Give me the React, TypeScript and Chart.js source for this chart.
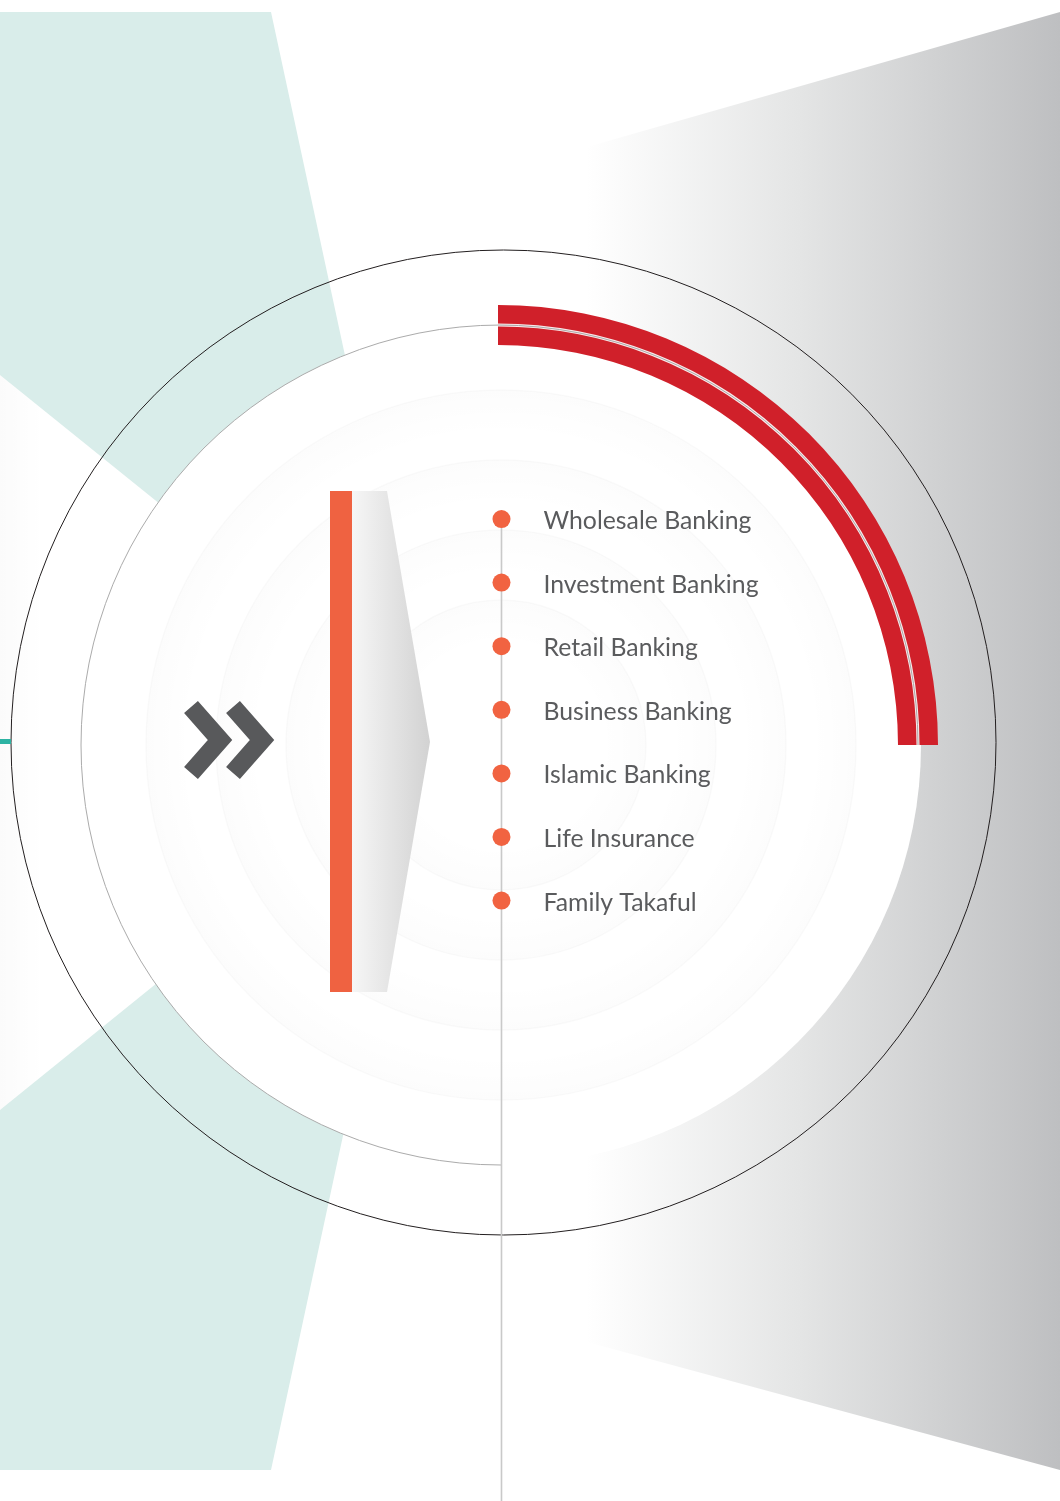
import React, { useEffect, useRef } from "react";
import { Chart, registerables } from "chart.js";

Chart.register(...registerables);

// ---- data ----
const categories = [
  "Wholesale Banking",
  "Investment Banking",
  "Retail Banking",
  "Business Banking",
  "Islamic Banking",
  "Life Insurance",
  "Family Takaful",
];
const ranks = [1, 2, 3, 4, 5, 6, 7];
const timelinePosition = [0, 0, 0, 0, 0, 0, 0];
const arcLabels = ["Highlighted", "Remainder"];
const arcValues = [25, 75];

// ---- styles ----
const DOT_COLOR = "#f16341";
const TEXT_COLOR = "#5a5b5d";
const RED = "#d0202a";
const TEAL_BG = "#d9edea";
const FONT = '"Lato"';

const W = 1060;
const H = 1501;
const CX = 501;
const CY = 745;
const R_DISC = 420;
const ARC_CX = 498;

const decorPlugin = {
  id: "decor",
  beforeDatasetsDraw(chart: any) {
    const ctx = chart.ctx as CanvasRenderingContext2D;
    ctx.save();
    ctx.fillStyle = "#ffffff";
    ctx.fillRect(0, 0, W, H);

    // teal polygon (left)
    ctx.fillStyle = TEAL_BG;
    ctx.beginPath();
    ctx.moveTo(0, 12);
    ctx.lineTo(271, 12);
    ctx.lineTo(428, 741);
    ctx.lineTo(271, 1470);
    ctx.lineTo(0, 1470);
    ctx.lineTo(0, 1110);
    ctx.lineTo(455, 742);
    ctx.lineTo(0, 375);
    ctx.closePath();
    ctx.fill();

    // faint shading at the left edge of the white wedge
    const lg = ctx.createLinearGradient(0, 0, 45, 0);
    lg.addColorStop(0, "rgba(0,0,0,0.015)");
    lg.addColorStop(1, "rgba(0,0,0,0)");
    ctx.fillStyle = lg;
    ctx.beginPath();
    ctx.moveTo(0, 375);
    ctx.lineTo(455, 742);
    ctx.lineTo(0, 1110);
    ctx.closePath();
    ctx.fill();

    // gray gradient polygon (right)
    const g = ctx.createLinearGradient(587, 0, W, 0);
    g.addColorStop(0, "#ffffff");
    g.addColorStop(0.45, "#e4e5e5");
    g.addColorStop(1, "#bebfc1");
    ctx.fillStyle = g;
    ctx.beginPath();
    ctx.moveTo(587, 147);
    ctx.lineTo(W, 12);
    ctx.lineTo(W, 1470);
    ctx.lineTo(587, 1342);
    ctx.closePath();
    ctx.fill();

    // white disc
    ctx.fillStyle = "#ffffff";
    ctx.beginPath();
    ctx.arc(CX, CY, R_DISC, 0, Math.PI * 2);
    ctx.fill();

    // very faint concentric rings
    [355, 285, 215, 145].forEach((r) => {
      const rg = ctx.createRadialGradient(CX, CY, r - 45, CX, CY, r);
      rg.addColorStop(0, "rgba(0,0,0,0)");
      rg.addColorStop(1, "rgba(0,0,0,0.012)");
      ctx.fillStyle = rg;
      ctx.beginPath();
      ctx.arc(CX, CY, r, 0, Math.PI * 2);
      ctx.fill();
      ctx.strokeStyle = "rgba(0,0,0,0.018)";
      ctx.lineWidth = 1.5;
      ctx.stroke();
    });

    // inner circle line (left half)
    ctx.strokeStyle = "#ababab";
    ctx.lineWidth = 1;
    ctx.beginPath();
    ctx.arc(CX, CY, R_DISC, Math.PI / 2, Math.PI * 1.5);
    ctx.stroke();

    // outer thin black circle
    ctx.strokeStyle = "#231f20";
    ctx.lineWidth = 1;
    ctx.beginPath();
    ctx.arc(503.5, 742.5, 492.5, 0, Math.PI * 2);
    ctx.stroke();

    // small teal tick at left
    ctx.fillStyle = "#2db3a3";
    ctx.fillRect(0, 739, 11, 5);

    // vertical timeline line
    const meta = chart.getDatasetMeta(0);
    const first = meta.data[0];
    ctx.strokeStyle = "#c9c9c9";
    ctx.lineWidth = 1.6;
    ctx.beginPath();
    ctx.moveTo(first.x, first.y);
    ctx.lineTo(first.x, H);
    ctx.stroke();

    // orange bar
    ctx.fillStyle = "#ef6241";
    ctx.fillRect(330, 491, 22, 501);

    // gray arrow shape
    const ag = ctx.createLinearGradient(352, 0, 430, 0);
    ag.addColorStop(0, "#f6f6f6");
    ag.addColorStop(1, "#d2d2d2");
    ctx.fillStyle = ag;
    ctx.beginPath();
    ctx.moveTo(352, 491);
    ctx.lineTo(387, 491);
    ctx.lineTo(430, 742);
    ctx.lineTo(387, 992);
    ctx.lineTo(352, 992);
    ctx.closePath();
    ctx.fill();

    // double chevron
    ctx.strokeStyle = "#58595b";
    ctx.lineWidth = 18.4;
    ctx.lineJoin = "miter";
    ctx.lineCap = "butt";
    [0, 42].forEach((dx) => {
      ctx.beginPath();
      ctx.moveTo(191 + dx, 707);
      ctx.lineTo(220 + dx, 740);
      ctx.lineTo(191 + dx, 773);
      ctx.stroke();
    });
    ctx.restore();
  },
};

const labelPlugin = {
  id: "labels",
  afterDatasetsDraw(chart: any) {
    const ctx = chart.ctx as CanvasRenderingContext2D;
    const meta = chart.getDatasetMeta(0);
    ctx.save();
    ctx.font = `20px ${FONT}`;
    const w = ctx.measureText(categories[0]).width;
    const size = (20 * 208) / w;
    ctx.font = `${size}px ${FONT}`;
    ctx.fillStyle = TEXT_COLOR;
    ctx.textAlign = "left";
    ctx.textBaseline = "alphabetic";
    meta.data.forEach((pt: any, i: number) => {
      ctx.fillText(categories[i], pt.x + 42, pt.y + 10);
    });
    ctx.restore();
  },
};

const arcLinePlugin = {
  id: "arcLine",
  afterDatasetsDraw(chart: any) {
    const ctx = chart.ctx as CanvasRenderingContext2D;
    const arc = chart.getDatasetMeta(0).data[0];
    const r = (arc.innerRadius + arc.outerRadius) / 2;
    ctx.save();
    ctx.beginPath();
    ctx.arc(arc.x, arc.y, r, -Math.PI / 2, 0);
    ctx.strokeStyle = "rgba(255,255,255,0.9)";
    ctx.lineWidth = 3;
    ctx.stroke();
    ctx.beginPath();
    ctx.arc(arc.x, arc.y, r, -Math.PI / 2, 0);
    ctx.strokeStyle = "#a9a9a9";
    ctx.lineWidth = 1;
    ctx.stroke();
    ctx.restore();
  },
};

export default function App() {
  const mainRef = useRef<HTMLCanvasElement>(null);
  const arcRef = useRef<HTMLCanvasElement>(null);

  useEffect(() => {
    const main = new Chart(mainRef.current as HTMLCanvasElement, {
      type: "scatter",
      data: {
        labels: categories,
        datasets: [
          {
            label: "Business lines",
            data: ranks.map((r, i) => ({ x: timelinePosition[i], y: r })),
            pointRadius: 9,
            pointHoverRadius: 9,
            pointBackgroundColor: DOT_COLOR,
            pointBorderWidth: 0,
            borderWidth: 0,
          },
        ],
      },
      options: {
        animation: false,
        responsive: false,
        events: [],
        layout: { padding: 0 },
        scales: {
          x: { type: "linear", min: -501, max: 559, display: false },
          y: { type: "linear", min: -7.02, max: 16.3, reverse: true, display: false },
        },
        plugins: { legend: { display: false }, tooltip: { enabled: false } },
      },
      plugins: [decorPlugin, labelPlugin],
    });

    const arc = new Chart(arcRef.current as HTMLCanvasElement, {
      type: "doughnut",
      data: {
        labels: arcLabels,
        datasets: [
          {
            data: arcValues,
            backgroundColor: [RED, "rgba(0,0,0,0)"],
            borderWidth: 0,
            hoverOffset: 0,
          },
        ],
      },
      options: {
        animation: false,
        responsive: false,
        events: [],
        cutout: 400,
        rotation: 0,
        circumference: 360,
        layout: { padding: 0 },
        plugins: { legend: { display: false }, tooltip: { enabled: false } },
      },
      plugins: [arcLinePlugin],
    });

    return () => {
      main.destroy();
      arc.destroy();
    };
  }, []);

  return (
    <div style={{ position: "absolute", left: 0, top: 0, width: W, height: H, overflow: "hidden", background: "#fff" }}>
      <canvas
        ref={mainRef}
        width={W}
        height={H}
        style={{ position: "absolute", left: 0, top: 0, width: W, height: H }}
      />
      <canvas
        ref={arcRef}
        width={880}
        height={880}
        style={{ position: "absolute", left: ARC_CX - 440, top: CY - 440, width: 880, height: 880 }}
      />
    </div>
  );
}
